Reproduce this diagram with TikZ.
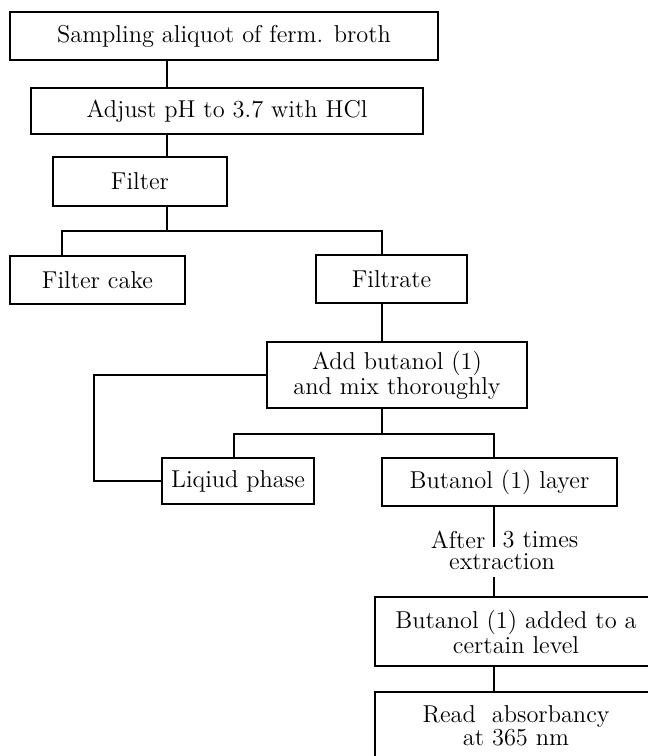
\documentclass[tikz,border=0pt]{standalone}
\begin{document}
\begin{tikzpicture}[x=0.5pt,y=-0.5pt,line width=0.6pt,
    every node/.style={font=\fontsize{12.2}{10.5}\selectfont},
    stagebox/.style={draw,align=center,inner sep=0pt}]
  \clip (0,0) rectangle (648,756);
  % boxes
  \node[stagebox,minimum width=214pt,minimum height=24pt] (samp) at (224,36) {Sampling\ aliquot of ferm. broth};
  \node[stagebox,minimum width=196pt,minimum height=23pt] (adjust) at (227,111) {Adjust pH\ to 3.7 with HCl};
  \node[stagebox,minimum width=87pt,minimum height=24.5pt] (filter) at (140,181.5) {Filter};
  \node[stagebox,minimum width=87.5pt,minimum height=24pt] (cake) at (97.5,280) {Filter cake};
  \node[stagebox,minimum width=75.5pt,minimum height=24pt] (filtrate) at (391.5,279) {Filtrate};
  \node[stagebox,minimum width=130pt,minimum height=33pt] (addbut) at (397,375) {Add butanol (1)\\and mix\ thoroughly};
  \node[stagebox,minimum width=76pt,minimum height=23pt] (liquid) at (238,481) {Liqiud\ phase};
  \node[stagebox,minimum width=117.5pt,minimum height=24pt] (layer) at (499.5,482) {Butanol\ (1)\ layer};
  \node[stagebox,minimum width=141pt,minimum height=34.5pt] (added) at (516,631.5) {Butanol (1) added to a\\certain\ level};
  \node[stagebox,minimum width=141pt,minimum height=34pt] (read) at (516,726) {Read\ \ absorbancy\\at\ 365 nm};
  % labels on the extraction step
  \node (extr) at (502,562) {extraction};
  \node[anchor=east,inner sep=2pt] (after) at (490,540) {After};
  \node[anchor=west,inner sep=2pt] (times) at (498,540) {3 times};
  % columns and rows of the connectors
  \coordinate (colA) at (167,0);
  \coordinate (colB) at (62,0);
  \coordinate (colC) at (382,0);
  \coordinate (colD) at (94,0);
  \coordinate (colE) at (234,0);
  \coordinate (colF) at (494,0);
  \coordinate (rowA) at (0,231);
  \coordinate (rowB) at (0,434);
  \coordinate (rowC) at (0,375);
  % connectors
  \draw (samp.south -| colA) -- (adjust.north -| colA);
  \draw (adjust.south -| colA) -- (filter.north -| colA);
  \draw (filter.south -| colA) -- (colA |- rowA);
  \draw (cake.north -| colB) |- (colC |- rowA) -- (filtrate.north -| colC);
  \draw (filtrate.south -| colC) -- (addbut.north -| colC);
  \draw (addbut.south -| colC) -- (colC |- rowB);
  \draw (liquid.north -| colE) |- (colF |- rowB) -- (layer.north -| colF);
  \draw (addbut.west |- rowC) -| (colD |- liquid.west) -- (liquid.west);
  \draw (layer.south -| colF) -- (extr.north -| colF);
  \draw (extr.south -| colF) -- (added.north -| colF);
  \draw (added.south -| colF) -- (read.north -| colF);
\end{tikzpicture}
\end{document}
